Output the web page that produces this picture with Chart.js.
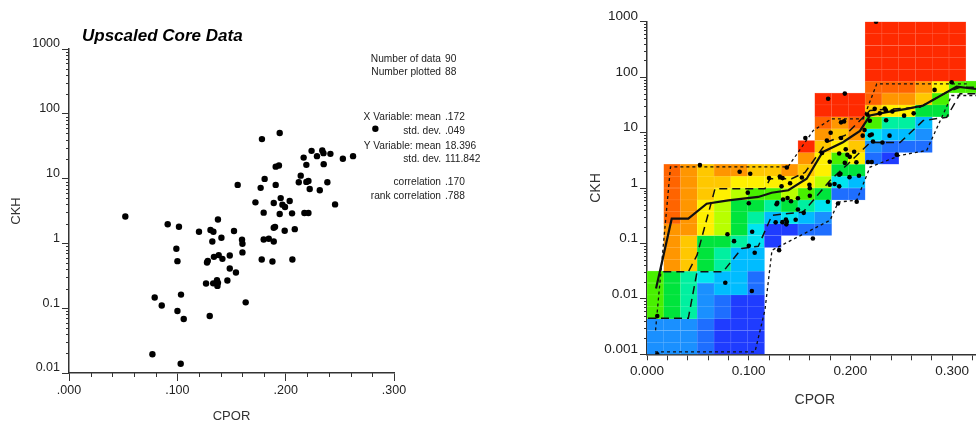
<!DOCTYPE html>
<html>
<head>
<meta charset="utf-8">
<script src="https://cdn.jsdelivr.net/npm/chart.js@4.4.1/dist/chart.umd.min.js"></script>
<style>
  html, body { margin: 0; padding: 0; background: #fff; overflow: hidden; }
  #page { position: relative; width: 976px; height: 425px; overflow: hidden;
          font-family: "Liberation Sans", Arial, sans-serif; color: #222; }
  #coreChart { position: absolute; left: 0; top: 0; }
  #tableChart { position: absolute; left: 560px; top: 0; }
  .title { position: absolute; left: 82px; top: 26px; font: italic bold 17px "Liberation Sans", Arial, sans-serif; color: #000; }
  .stat { position: absolute; font-size: 10.2px; line-height: 14px; white-space: nowrap; }
  .stat.lab { text-align: right; width: 160px; left: 281px; }
  .stat.val { left: 445px; }
</style>
</head>
<body>
<div id="page">
  <canvas id="coreChart" width="480" height="425"></canvas>
  <canvas id="tableChart" width="430" height="425"></canvas>
  <div class="title">Upscaled Core Data</div>
  <div id="stats"></div>
</div>
<script>
// core data, CPOR vs CKH
const cpor = [0.1781, 0.1945, 0.2239, 0.2338, 0.2349, 0.2413, 0.2528, 0.2622, 0.2166, 0.2289,
  0.1908, 0.1938, 0.2191, 0.2351, 0.2139, 0.1806, 0.1557, 0.1769, 0.1908, 0.2121,
  0.2191, 0.2210, 0.2222, 0.2315, 0.2385, 0.1721, 0.1890, 0.1954, 0.1970, 0.1994,
  0.2037, 0.2456, 0.1797, 0.1945, 0.2059, 0.2173, 0.2210, 0.0520, 0.1375, 0.0911,
  0.1015, 0.1200, 0.1306, 0.1333, 0.1523, 0.1323, 0.1407, 0.1597, 0.1601, 0.1797,
  0.1844, 0.1890, 0.1890, 0.1902, 0.1991, 0.2084, 0.0991, 0.1001, 0.1274, 0.1281,
  0.1338, 0.1382, 0.1416, 0.1484, 0.1601, 0.1779, 0.1878, 0.2062, 0.1265, 0.1366,
  0.1375, 0.1370, 0.1331, 0.1462, 0.1484, 0.1541, 0.0791, 0.1034, 0.0856, 0.1001,
  0.1059, 0.1299, 0.1631, 0.0770, 0.1031, 0.2828];
const ckh = [40.7, 50.5, 26.8, 27.1, 24.7, 24.1, 20.2, 22.2, 21.1, 22.2,
  15.3, 15.9, 16.3, 16.7, 11.1, 9.9, 8.0, 7.2, 8.0, 8.8,
  8.9, 9.2, 6.9, 6.6, 8.8, 4.3, 4.2, 5.0, 3.96, 3.65,
  4.5, 4.0, 2.98, 2.84, 2.91, 2.94, 2.94, 2.6, 2.34, 1.97,
  1.81, 1.51, 1.61, 1.51, 1.55, 1.07, 1.22, 1.14, 0.99, 1.15,
  1.18, 1.07, 1.74, 1.8, 1.57, 1.66, 0.825, 0.532, 0.508, 0.538,
  0.62, 0.66, 0.578, 0.652, 0.726, 0.565, 0.526, 0.565, 0.240, 0.270,
  0.246, 0.221, 0.242, 0.267, 0.41, 0.356, 0.146, 0.162, 0.11, 0.0905,
  0.068, 0.0757, 0.123, 0.0195, 0.0139, 58.8];
// samples that fall outside the left window, shown only on the right
const cporExtra = [0.0101, 0.0101, 0.2252, 0.2996];
const ckhExtra = [0.0049, 0.001, 1500, 80.7];

const statLabels = ['Number of data', 'Number plotted', 'X Variable: mean', 'std. dev.',
  'Y Variable: mean', 'std. dev.', 'correlation', 'rank correlation'];
const statValues = ['90', '88', '.172', '.049', '18.396', '111.842', '.170', '.788'];

// conditional distribution table: 20 CPOR classes x 28 log CKH classes
const colWidth = 0.0165;
const nRows = 28, logMin = -3, logMax = 3;
const colStartRow = [0, 0, 0, 0, 0, 0, 0, 9, 10, 10, 10, 13, 13, 16, 16, 17, 17, 20, 22, 22];
const colClasses = [
  '2227777',
  '2226666bbbbccccc',
  '2225555aaabbbbbb',
  '1112224666999aaa',
  '00011335568889ab',
  '000003333566689b',
  '000001133445679a',
  '003579a',
  '04689b',
  '13579abd',
  '1246899abcdd',
  '14679abdd',
  '1369abcdd',
  '1247accddddd',
  '01359bcddddd',
  '1359bcddddd',
  '1236abddddd',
  '679ddddd',
  '7ddddd',
  '7'
];
const classColors = ['#1f3cff', '#1e6eff', '#1a90ff', '#00bcff', '#00e4f0', '#00f0a0', '#00e43c',
  '#48f000', '#b8ff00', '#fff000', '#ffc800', '#ff9600', '#ff6400', '#ff2a00'];

// quantile curves of CKH given CPOR
const medCpor = [0.0089, 0.0243, 0.0406, 0.0587, 0.0799, 0.1094, 0.1226, 0.139, 0.157, 0.1726,
  0.1927, 0.2094, 0.2193, 0.2357, 0.2554, 0.2717, 0.3045, 0.3235];
const medCkh = [0.0154, 0.28, 0.28, 0.52, 0.60, 0.69, 0.82, 0.91, 1.47, 4.43,
  6.7, 10.7, 20.3, 23.3, 26.8, 30.8, 67.6, 61];
const q90Cpor = [0.0084, 0.0231, 0.1386, 0.1635, 0.1816, 0.2127, 0.2259, 0.3144];
const q90Ckh = [0.0027, 2.40, 2.40, 10.9, 17.7, 17.7, 75.5, 75.5];
const q75Cpor = [0.016, 0.0406, 0.0492, 0.0669, 0.116, 0.121, 0.1423, 0.1554, 0.1767, 0.1947,
  0.2193, 0.2684, 0.2947, 0.3078, 0.3235];
const q75Ckh = [0.0307, 0.0307, 0.0614, 0.973, 0.973, 1.47, 1.47, 1.91, 6.7, 8.9,
  25, 28.7, 53.3, 65.6, 65.6];
const q25Cpor = [0.001, 0.0406, 0.0492, 0.0747, 0.0931, 0.1094, 0.1229, 0.1537, 0.18, 0.1979,
  0.2193, 0.2488, 0.2717, 0.2947, 0.3078, 0.3235];
const q25Ckh = [0.00445, 0.00445, 0.0307, 0.0307, 0.081, 0.089, 0.322, 0.369, 1.37, 2.74,
  6.6, 6.6, 16.5, 18.9, 49.9, 49.9];
const q10Cpor = [0.0079, 0.1062, 0.116, 0.1229, 0.18, 0.1881, 0.2062, 0.2193, 0.2488, 0.275,
  0.2996, 0.3235];
const q10Ckh = [0.00111, 0.00111, 0.0063, 0.0755, 0.262, 0.558, 0.60, 2.38, 3.87, 4.76,
  46.6, 46.6];

Chart.defaults.font.family = '"Liberation Sans", Arial, sans-serif';
Chart.defaults.color = '#222';

const pairs = (xs, ys) => xs.map((x, i) => ({x: x, y: ys[i]}));
const isDecade = v => Math.abs(Math.log10(v) - Math.round(Math.log10(v))) < 1e-6;
const decadeLabel = v => String(Number(v.toPrecision(1)));
const keepDecades = s => { s.ticks = s.ticks.filter(t => isDecade(t.value)); };

function lighten(hex, t) {
  const n = parseInt(hex.slice(1), 16);
  const ch = [n >> 16, (n >> 8) & 255, n & 255].map(c => Math.round(c + (255 - c) * t));
  return 'rgb(' + ch.join(',') + ')';
}

// small in-between tick marks on the axes
const minorTicks = {
  id: 'minorTicks',
  afterDraw(chart, args, opts) {
    const ctx = chart.ctx, x = chart.scales.x, y = chart.scales.y;
    ctx.save();
    ctx.strokeStyle = opts.color;
    ctx.lineWidth = 1;
    (opts.xValues || []).forEach(v => {
      const px = Math.round(x.getPixelForValue(v)) + 0.5;
      ctx.beginPath(); ctx.moveTo(px, y.bottom); ctx.lineTo(px, y.bottom + opts.xLength); ctx.stroke();
    });
    (opts.yValues || []).forEach(v => {
      const py = Math.round(y.getPixelForValue(v)) + 0.5;
      ctx.beginPath(); ctx.moveTo(x.left - opts.yLength, py); ctx.lineTo(x.left, py); ctx.stroke();
    });
    ctx.restore();
  }
};

function logMinors(fromExp, toExp) {
  const out = [];
  for (let e = fromExp; e < toExp; e++) {
    for (let m = 2; m <= 9; m++) out.push(m * Math.pow(10, e));
  }
  return out;
}

// stats text block
const statTops = [52, 65, 110, 124, 139, 152, 175, 189];
const stats = document.getElementById('stats');
statLabels.forEach((lab, i) => {
  const l = document.createElement('div');
  l.className = 'stat lab';
  l.style.top = statTops[i] + 'px';
  l.textContent = lab;
  const v = document.createElement('div');
  v.className = 'stat val';
  v.style.top = statTops[i] + 'px';
  v.textContent = statValues[i];
  stats.appendChild(l);
  stats.appendChild(v);
});

// left: scatter of the upscaled core data
new Chart(document.getElementById('coreChart'), {
  type: 'scatter',
  data: {
    datasets: [{
      data: pairs(cpor, ckh),
      pointRadius: 3.2,
      backgroundColor: '#000',
      borderWidth: 0
    }]
  },
  options: {
    responsive: false,
    animation: false,
    devicePixelRatio: 1,
    layout: { padding: { left: 0, right: 86, top: 49, bottom: 0 } },
    plugins: {
      legend: { display: false },
      tooltip: { enabled: false },
      minorTicks: {
        color: '#333',
        xValues: [0.02, 0.04, 0.06, 0.08, 0.12, 0.14, 0.16, 0.18, 0.22, 0.24, 0.26, 0.28],
        xLength: 4,
        yValues: logMinors(-2, 3),
        yLength: 3
      }
    },
    scales: {
      x: {
        type: 'linear', min: 0, max: 0.3, offset: false,
        ticks: { stepSize: 0.1, autoSkip: false, maxRotation: 0, padding: 2, font: { size: 12.5 },
                 callback: v => v.toFixed(3).replace(/^0/, '') },
        grid: { drawOnChartArea: false, tickLength: 8, color: '#333' },
        border: { color: '#333', width: 1.5 },
        title: { display: true, text: 'CPOR', color: '#333', font: { size: 13 }, padding: { top: 0, bottom: 0.5 } },
        afterFit: s => { s.height = 52; }
      },
      y: {
        type: 'logarithmic', min: 0.01, max: 1000,
        afterBuildTicks: keepDecades,
        ticks: { autoSkip: false, padding: 2, labelOffset: -5, font: { size: 12.5 }, callback: decadeLabel },
        grid: { drawOnChartArea: false, tickLength: 7, color: '#333' },
        border: { color: '#333', width: 1.5 },
        title: { display: true, text: 'CKH', color: '#333', font: { size: 13 }, padding: { top: 9, bottom: 0 } },
        afterFit: s => { s.width = 69; }
      }
    }
  },
  plugins: [minorTicks]
});

// right: conditional table of CKH classes per CPOR class
const ckhEdges = [];
for (let k = 0; k <= nRows; k++) ckhEdges.push(Math.pow(10, logMin + k * (logMax - logMin) / nRows));
const cellData = [], cellColors = [], cellBorders = [];
colClasses.forEach((codes, c) => {
  [...codes].forEach((code, i) => {
    const k = colStartRow[c] + i;
    const col = classColors[parseInt(code, 16)];
    cellData.push({ x: (c + 0.5) * colWidth, y: [ckhEdges[k], ckhEdges[k + 1]] });
    cellColors.push(col);
    cellBorders.push(lighten(col, 0.3));
  });
});

const clampCkh = v => Math.min(Math.max(v, 0.001), 1000);
const tablePoints = pairs(cpor.concat(cporExtra), ckh.concat(ckhExtra).map(clampCkh));

const curve = (xs, ys, dash, width) => ({
  type: 'line', data: pairs(xs, ys), borderColor: '#111', borderWidth: width, borderDash: dash,
  pointRadius: 0, tension: 0, fill: false, order: 2
});

new Chart(document.getElementById('tableChart'), {
  type: 'bar',
  data: {
    datasets: [
      { type: 'scatter', data: tablePoints, pointRadius: 2.3, backgroundColor: '#000', borderWidth: 0, order: 1 },
      curve(medCpor, medCkh, [], 2.2),
      curve(q75Cpor, q75Ckh, [8, 5], 1.5),
      curve(q25Cpor, q25Ckh, [8, 5], 1.5),
      curve(q90Cpor, q90Ckh, [3, 3], 1.3),
      curve(q10Cpor, q10Ckh, [3, 3], 1.3),
      {
        type: 'bar', data: cellData, backgroundColor: cellColors, borderColor: cellBorders,
        borderWidth: 0.5, borderSkipped: false, barPercentage: 1, categoryPercentage: 1, order: 10
      }
    ]
  },
  options: {
    responsive: false,
    animation: false,
    devicePixelRatio: 1,
    layout: { padding: { left: 0, right: 7.4, top: 21.7, bottom: 0 } },
    plugins: {
      legend: { display: false },
      tooltip: { enabled: false },
      minorTicks: { color: '#333', yValues: logMinors(-3, 3), yLength: 3 }
    },
    scales: {
      x: {
        type: 'linear', min: 0, max: 0.33, offset: false,
        ticks: { stepSize: 0.02, includeBounds: false, autoSkip: false, maxRotation: 0, minRotation: 0,
                 padding: 3, font: { size: 13.5 },
                 callback: v => Math.abs(v * 10 - Math.round(v * 10)) < 1e-6 ? v.toFixed(3) : '' },
        grid: { drawOnChartArea: false, offset: false, tickLength: 6, color: '#333' },
        border: { color: '#333', width: 1.5 },
        title: { display: true, text: 'CPOR', color: '#333', font: { size: 14 }, padding: { top: 0, bottom: 16.6 } },
        afterFit: s => { s.height = 70.7; }
      },
      y: {
        type: 'logarithmic', min: 0.001, max: 1000,
        afterBuildTicks: keepDecades,
        ticks: { autoSkip: false, padding: 2, labelOffset: -5, font: { size: 13.5 }, callback: decadeLabel },
        grid: { drawOnChartArea: false, tickLength: 7, color: '#333' },
        border: { color: '#333', width: 1.5 },
        title: { display: true, text: 'CKH', color: '#333', font: { size: 14 }, padding: { top: 27.6, bottom: 0 } },
        afterFit: s => { s.width = 87; }
      }
    }
  },
  plugins: [minorTicks]
});
</script>
</body>
</html>
